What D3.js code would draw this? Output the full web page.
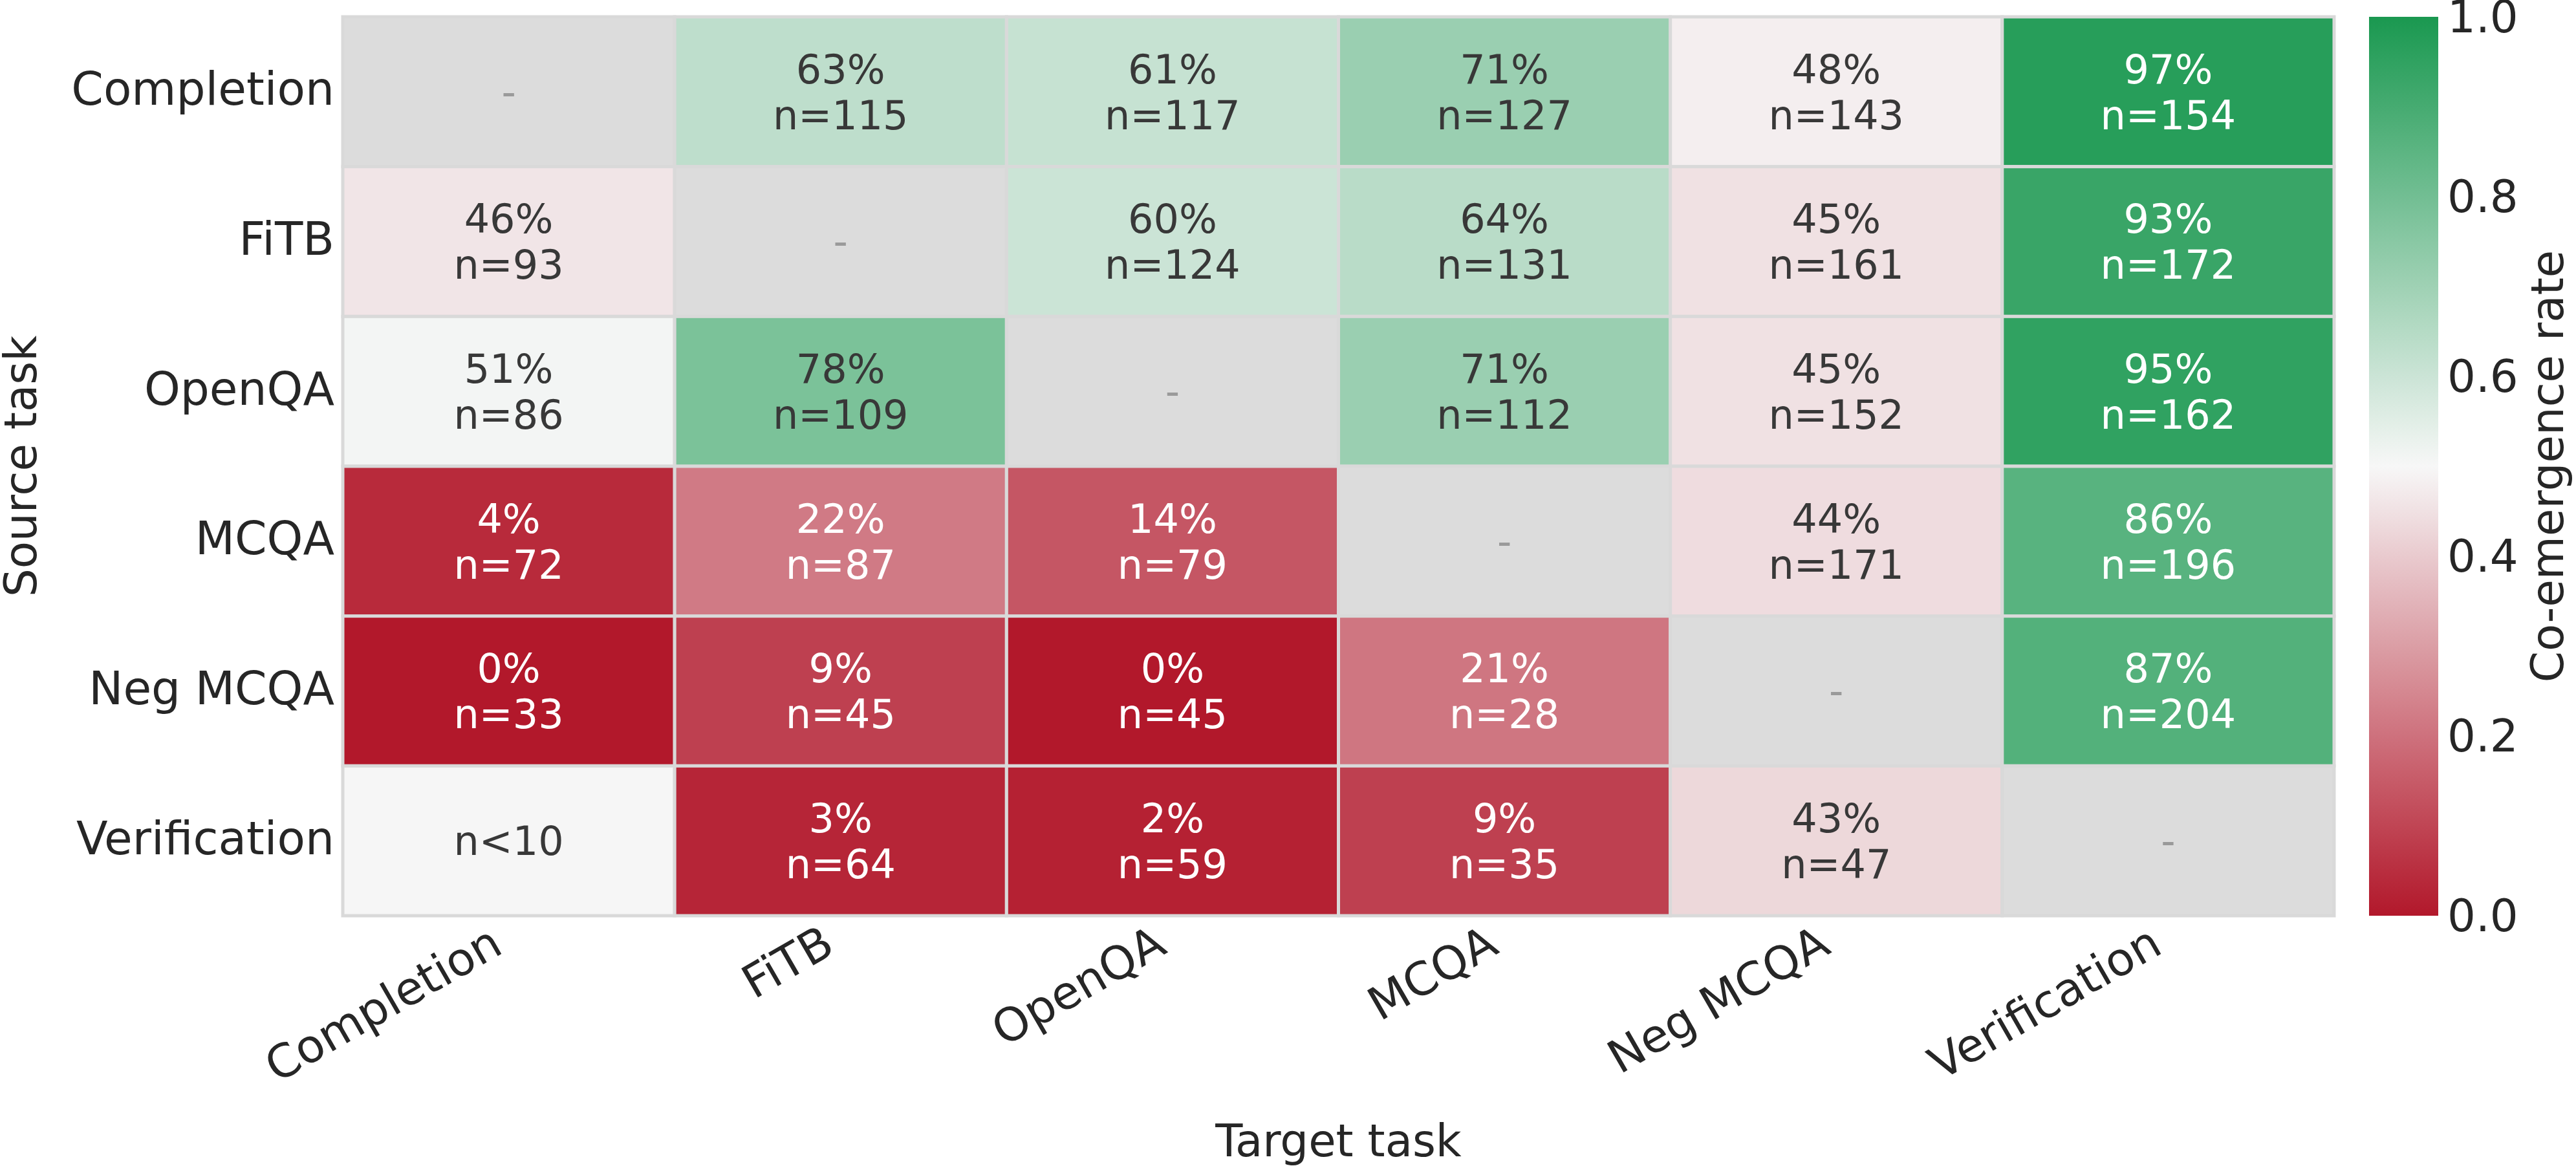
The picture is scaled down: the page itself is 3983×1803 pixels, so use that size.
<!DOCTYPE html>
<html>
<head>
<meta charset="utf-8">
<script src="https://cdn.jsdelivr.net/npm/d3@7"></script>
<style>
  html, body { margin: 0; padding: 0; background: #ffffff; }
  svg text { font-family: "DejaVu Sans", sans-serif; }
</style>
</head>
<body>
<svg id="chart" width="3983" height="1803"></svg>
<script>
// ---- data ----
const sourceTasks = ["Completion", "FiTB", "OpenQA", "MCQA", "Neg MCQA", "Verification"];
const targetTasks = ["Completion", "FiTB", "OpenQA", "MCQA", "Neg MCQA", "Verification"];
// co-emergence rate (null = diagonal / not available)
const rateCompletion   = [null, 0.63, 0.61, 0.71, 0.48, 0.97];
const rateFiTB         = [0.46, null, 0.60, 0.64, 0.45, 0.93];
const rateOpenQA       = [0.51, 0.78, null, 0.71, 0.45, 0.95];
const rateMCQA         = [0.04, 0.22, 0.14, null, 0.44, 0.86];
const rateNegMCQA      = [0.00, 0.09, 0.00, 0.21, null, 0.87];
const rateVerification = [null, 0.03, 0.02, 0.09, 0.43, null];
// sample counts (null = diagonal, "<10" = too few samples)
const nCompletion   = [null, 115, 117, 127, 143, 154];
const nFiTB         = [93, null, 124, 131, 161, 172];
const nOpenQA       = [86, 109, null, 112, 152, 162];
const nMCQA         = [72, 87, 79, null, 171, 196];
const nNegMCQA      = [33, 45, 45, 28, null, 204];
const nVerification = ["<10", 64, 59, 35, 47, null];
const colorbarTicks = [0.0, 0.2, 0.4, 0.6, 0.8, 1.0];
const xAxisTitle = "Target task";
const yAxisTitle = "Source task";
const colorbarTitle = "Co-emergence rate";

const rates = [rateCompletion, rateFiTB, rateOpenQA, rateMCQA, rateNegMCQA, rateVerification];
const counts = [nCompletion, nFiTB, nOpenQA, nMCQA, nNegMCQA, nVerification];

// ---- layout ----
const plotL = 530, plotR = 3609, plotT = 26, plotB = 1416;
const cbX0 = 3663, cbX1 = 3770;
const svg = d3.select("#chart");

const x = d3.scaleBand().domain(targetTasks).range([plotL, plotR]).padding(0);
const y = d3.scaleBand().domain(sourceTasks).range([plotT, plotB]).padding(0);
const color = d3.scaleLinear().domain([0, 0.5, 1])
  .range(["#b2182b", "#f7f7f7", "#1a9850"]).interpolate(d3.interpolateRgb).clamp(true);

const cells = [];
sourceTasks.forEach((s, i) => {
  targetTasks.forEach((t, j) => {
    cells.push({ s, t, v: rates[i][j], n: counts[i][j] });
  });
});

const g = svg.append("g");
g.selectAll("rect.cell").data(cells).join("rect")
  .attr("class", "cell")
  .attr("x", d => x(d.t)).attr("y", d => y(d.s))
  .attr("width", x.bandwidth()).attr("height", y.bandwidth())
  .attr("fill", d => d.v != null ? color(d.v) : (d.n === "<10" ? "#f6f6f6" : "#dcdcdc"))
  .attr("stroke", "#d9d9d9").attr("stroke-width", 5);

const annFont = 62;
const lab = g.selectAll("g.lab").data(cells).join("g").attr("class", "lab")
  .attr("transform", d => `translate(${x(d.t) + x.bandwidth() / 2},${y(d.s) + y.bandwidth() / 2})`);

lab.each(function(d) {
  const sel = d3.select(this);
  if (d.v == null && d.n == null) {
    sel.append("text").attr("text-anchor", "middle").attr("dy", "0.35em")
      .attr("font-size", annFont).attr("fill", "#9a9a9a").text("-");
  } else if (d.v == null) {
    sel.append("text").attr("text-anchor", "middle").attr("dy", "0.35em")
      .attr("font-size", annFont).attr("fill", "#383838").text("n" + d.n);
  } else {
    const fill = (d.v < 0.3 || d.v > 0.8) ? "#ffffff" : "#383838";
    sel.append("text").attr("text-anchor", "middle").attr("y", -35).attr("dy", "0.35em")
      .attr("font-size", annFont).attr("fill", fill).text(Math.round(d.v * 100) + "%");
    sel.append("text").attr("text-anchor", "middle").attr("y", 36).attr("dy", "0.35em")
      .attr("font-size", annFont).attr("fill", fill).text("n=" + d.n);
  }
});

// y tick labels
const tickFont = 71;
svg.append("g").selectAll("text").data(sourceTasks).join("text")
  .attr("x", plotL - 13).attr("y", d => y(d) + y.bandwidth() / 2).attr("dy", "0.29em")
  .attr("text-anchor", "end").attr("font-size", tickFont).attr("fill", "#262626").text(d => d);

// x tick labels (rotated 30°)
svg.append("g").selectAll("text").data(targetTasks).join("text")
  .attr("transform", d => `translate(${x(d) + x.bandwidth() / 2 - 6},1472) rotate(-30)`)
  .attr("text-anchor", "end").attr("font-size", tickFont).attr("fill", "#262626").text(d => d);

// axis titles
svg.append("text").attr("x", (plotL + plotR) / 2).attr("y", 1788)
  .attr("text-anchor", "middle").attr("font-size", 69).attr("fill", "#262626").text(xAxisTitle);
svg.append("text").attr("transform", `translate(56,${(plotT + plotB) / 2}) rotate(-90)`)
  .attr("text-anchor", "middle").attr("font-size", 69).attr("fill", "#262626").text(yAxisTitle);

// colorbar
const defs = svg.append("defs");
const grad = defs.append("linearGradient").attr("id", "cbgrad")
  .attr("x1", 0).attr("y1", 1).attr("x2", 0).attr("y2", 0);
d3.range(0, 1.0001, 0.05).forEach(t => {
  grad.append("stop").attr("offset", t).attr("stop-color", color(t));
});
svg.append("rect").attr("x", cbX0).attr("y", plotT).attr("width", cbX1 - cbX0).attr("height", plotB - plotT)
  .attr("fill", "url(#cbgrad)");
const cy = d3.scaleLinear().domain([0, 1]).range([plotB, plotT]);
svg.append("g").selectAll("text").data(colorbarTicks).join("text")
  .attr("x", cbX1 + 14).attr("y", d => cy(d)).attr("dy", "0.35em")
  .attr("font-size", 69).attr("fill", "#262626").text(d => d.toFixed(1));
svg.append("text").attr("transform", `translate(3963,${(plotT + plotB) / 2}) rotate(-90)`)
  .attr("text-anchor", "middle").attr("font-size", 69).attr("fill", "#262626").text(colorbarTitle);
</script>
</body>
</html>
